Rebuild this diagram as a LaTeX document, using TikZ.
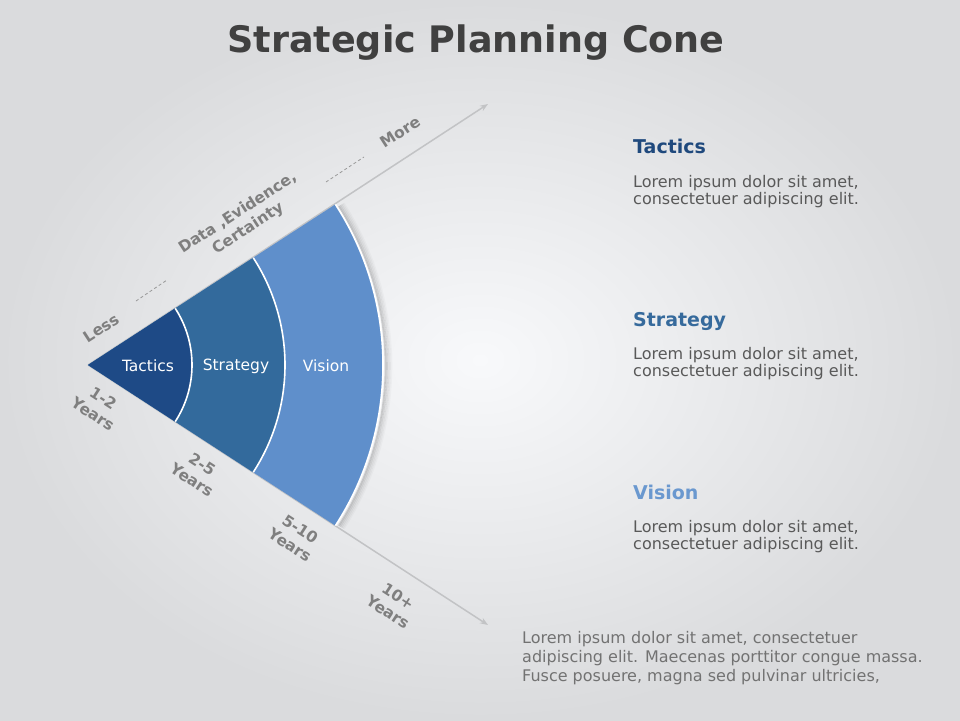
\documentclass[tikz,border=0pt]{standalone}
\usepackage{fontspec}
\setmainfont{DejaVu Sans}
\usetikzlibrary{arrows.meta}
\definecolor{bgedge}{HTML}{DADBDD}
\definecolor{bgmid}{HTML}{F8F9FB}
\definecolor{tacc}{HTML}{1E4A86}
\definecolor{strc}{HTML}{336A9C}
\definecolor{visc}{HTML}{5F8FCB}
\definecolor{tach}{HTML}{1F497D}
\definecolor{strh}{HTML}{366A9C}
\definecolor{vish}{HTML}{6A98CF}
\definecolor{axg}{HTML}{7F7F7F}
\definecolor{lineg}{HTML}{C2C3C5}
\definecolor{bodyg}{HTML}{595959}
\definecolor{titleg}{HTML}{404040}
\tikzset{
  arrowline/.style={draw=lineg, line width=1.5pt, -{Stealth[length=8pt,width=6pt]}},
  dashln/.style={draw=axg!80, line width=0.8pt, dash pattern=on 3pt off 2.5pt},
  inlbl/.style={text=white, font=\fontsize{15.5}{18}\selectfont, inner sep=0pt},
  axlbl/.style={text=axg, font=\bfseries\fontsize{15.5}{19}\selectfont, inner sep=0pt, align=center},
  headtxt/.style={font=\bfseries\fontsize{19}{22}\selectfont, anchor=base west, inner sep=0pt},
  bodytxt/.style={text=bodyg, font=\fontsize{16}{17}\selectfont, anchor=north west, inner sep=0pt, align=left},
  sepline/.style={draw=white, line width=1.6pt},
  shadowarc/.style={draw=black, line width=1.6pt},
}
\begin{document}
\begin{tikzpicture}[x=1pt,y=1pt]
\useasboundingbox (0,0) rectangle (960,-720);
\shade[inner color=bgmid, outer color=bgedge] (0,0) rectangle (960,-720);

% title
\node[text=titleg, font=\bfseries\fontsize{36.5}{40}\selectfont, inner sep=0pt] (title) at (476,-43) {Strategic Planning Cone};

% apex and arrow ends
\coordinate (O) at (88,-365);
\coordinate (U) at (488,-104);
\coordinate (D) at (488,-625);
\draw[arrowline] (O) -- (U);
\draw[arrowline] (O) -- (D);

% soft shadow along the outer arc
\coordinate (Os) at (89,-366);
\foreach \r/\o in {296.5/0.16, 298/0.12, 299.5/0.08, 301/0.05, 302.5/0.025}{
  \draw[shadowarc, draw opacity=\o] (Os) ++(32.6:\r) arc[start angle=32.6, end angle=-32.6, radius=\r];
}

% sectors
\fill[visc] (O) -- ++(33:295) arc[start angle=33, end angle=-33, radius=295] -- cycle;
\draw[sepline] (O) ++(33:295) arc[start angle=33, end angle=-33, radius=295];
\fill[strc] (O) -- ++(33:197) arc[start angle=33, end angle=-33, radius=197] -- cycle;
\draw[sepline] (O) ++(33:197) arc[start angle=33, end angle=-33, radius=197];
\fill[tacc] (O) -- ++(33:104) arc[start angle=33, end angle=-33, radius=104] -- cycle;
\draw[sepline] (O) ++(33:104) arc[start angle=33, end angle=-33, radius=104];

\node[inlbl] (tl) at (148,-366) {Tactics};
\node[inlbl] (sl) at (236,-366) {Strategy};
\node[inlbl] (vl) at (326,-366) {Vision};

% upper axis labels
\node[axlbl, rotate=33] (less) at (101,-328) {Less};
\node[axlbl, rotate=33] (data) at (243,-221) {Data ,Evidence,\\Certainty};
\node[axlbl, rotate=33] (more) at (400,-132) {More};
\coordinate (d1a) at (136,-301);
\coordinate (d1b) at (167,-280);
\coordinate (d2a) at (326,-182);
\coordinate (d2b) at (364,-157);
\draw[dashln] (d1a) -- (d1b);
\draw[dashln] (d2a) -- (d2b);

% lower axis labels
\node[axlbl, rotate=-33] (y1) at (98,-406) {1-2\\Years};
\node[axlbl, rotate=-33] (y2) at (197,-472) {2-5\\Years};
\node[axlbl, rotate=-33] (y3) at (295,-537) {5-10\\Years};
\node[axlbl, rotate=-33] (y4) at (393,-604) {10+\\Years};

% right side text
\node[headtxt, text=tach] (th) at (633,-153) {Tactics};
\node[bodytxt] (tb) at (633,-175) {Lorem ipsum dolor sit amet,\\consectetuer adipiscing elit.};
\node[headtxt, text=strh] (sh) at (633,-326) {Strategy};
\node[bodytxt] (sb) at (633,-347) {Lorem ipsum dolor sit amet,\\consectetuer adipiscing elit.};
\node[headtxt, text=vish] (vh) at (633,-499) {Vision};
\node[bodytxt] (vb) at (633,-520) {Lorem ipsum dolor sit amet,\\consectetuer adipiscing elit.};

\node[bodytxt, text=bodyg!85, font=\fontsize{16}{19}\selectfont] (para) at (522,-631) {Lorem ipsum dolor sit amet, consectetuer\\adipiscing elit. Maecenas porttitor congue massa.\\Fusce posuere, magna sed pulvinar ultricies,};
\end{tikzpicture}
\end{document}
